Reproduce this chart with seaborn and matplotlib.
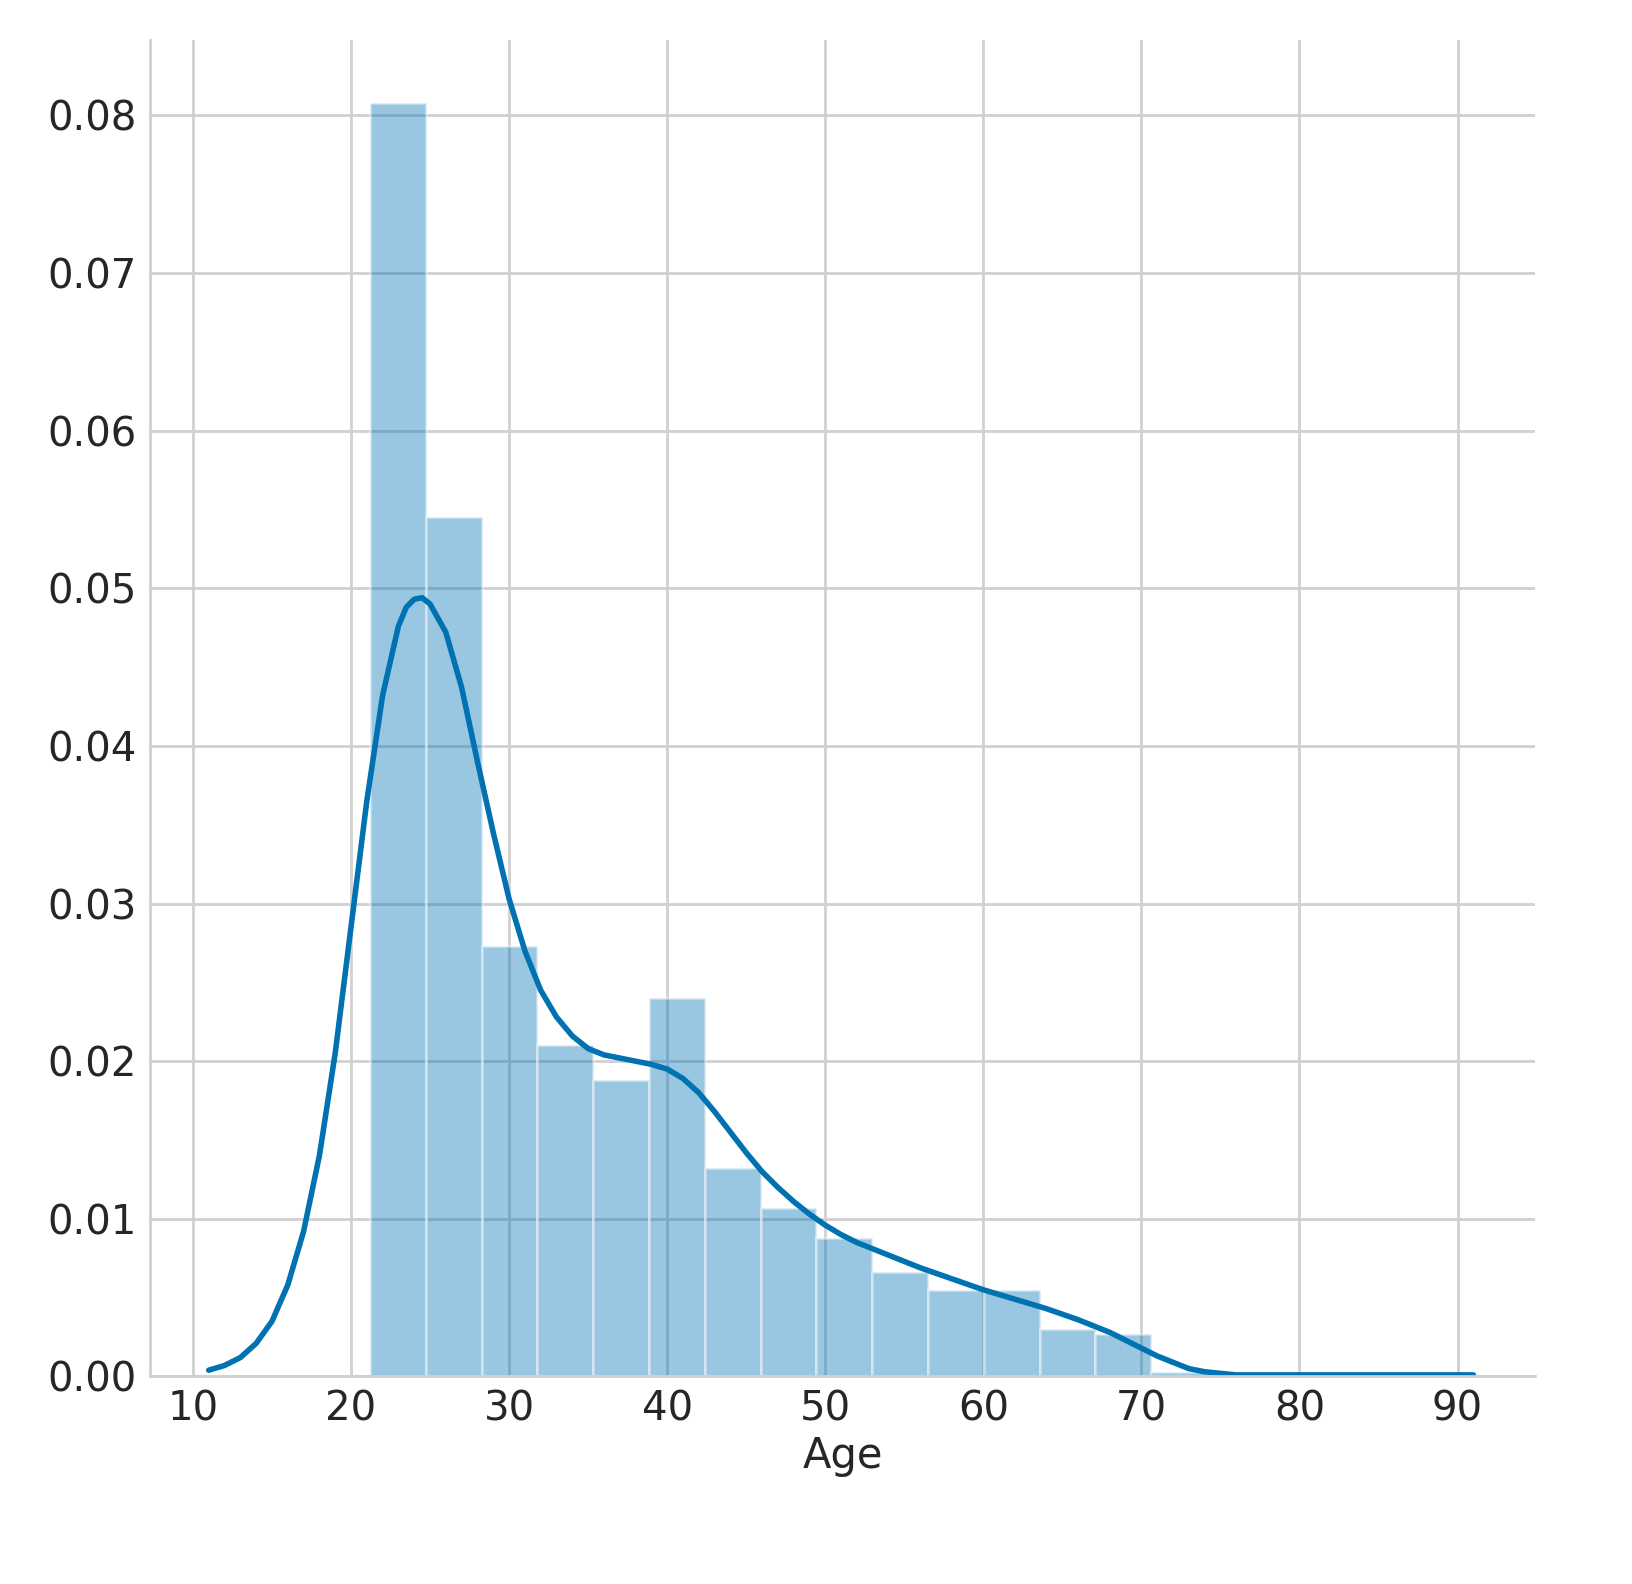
import matplotlib
matplotlib.use("Agg")
import matplotlib.pyplot as plt
import seaborn as sns
import numpy as np

bin_edges = [21.2 + i * 3.53 for i in range(16)]
bin_heights = [0.0808, 0.0545, 0.0273, 0.0210, 0.0188, 0.0240, 0.0132, 0.0107,
               0.0088, 0.0066, 0.0055, 0.0055, 0.0030, 0.0027, 0.0003]
kde_x = [11, 12, 13, 14, 15, 16, 17, 18, 19, 20, 21, 22, 23, 23.5, 24, 24.5, 25, 26, 27,
         28, 29, 30, 31, 32, 33, 34, 35, 36, 37, 38, 39, 40, 41, 42, 43, 44, 45, 46, 47,
         48, 49, 50, 51, 52, 54, 56, 58, 60, 62, 64, 66, 68, 70, 71, 72, 73, 74, 75, 76,
         78, 80, 85, 91]
kde_y = [0.0004, 0.0007, 0.0012, 0.0021, 0.0035, 0.0058, 0.0092, 0.0140, 0.0205, 0.0285,
         0.0365, 0.0432, 0.0476, 0.0488, 0.0493, 0.0494, 0.0490, 0.0472, 0.0437, 0.0390,
         0.0345, 0.0303, 0.0270, 0.0245, 0.0228, 0.0216, 0.0208, 0.0204, 0.0202, 0.0200,
         0.0198, 0.0195, 0.0189, 0.0180, 0.0168, 0.0155, 0.0142, 0.0130, 0.0120, 0.0111,
         0.0103, 0.0096, 0.0090, 0.0085, 0.0077, 0.0069, 0.0062, 0.0055, 0.0049, 0.0043,
         0.0036, 0.0028, 0.0018, 0.0013, 0.0009, 0.0005, 0.0003, 0.0002, 0.0001,
         0.0001, 0.0001, 0.0001, 0.0001]

sns.set_theme(style="whitegrid")
color = "#0072B2"
fig = plt.figure(figsize=(16.33, 15.84), dpi=100)
ax = fig.add_axes([0.092, 0.131, 0.848, 0.844])
lefts = bin_edges[:-1]
widths = np.diff(bin_edges)
ax.bar(lefts, bin_heights, width=widths, align="edge", color=color, alpha=0.4,
       edgecolor="white", linewidth=2)
sns.lineplot(x=kde_x, y=kde_y, ax=ax, color=color, linewidth=4)
ax.set_xlim(7.3, 94.9)
ax.set_ylim(0, 0.0848)
ax.set_xticks(range(10, 91, 10))
ax.set_yticks([0.00, 0.01, 0.02, 0.03, 0.04, 0.05, 0.06, 0.07, 0.08])
ax.set_yticklabels([f"{v:.2f}" for v in ax.get_yticks()])
ax.tick_params(labelsize=29, colors="#262626")
ax.set_xlabel("Age", fontsize=30, color="#262626")
ax.grid(color="#d0d0d0", linewidth=2)
sns.despine(ax=ax)
for s in ["left", "bottom"]:
    ax.spines[s].set_color("#d0d0d0")
    ax.spines[s].set_linewidth(2)
fig.savefig("out.png", dpi=100)
